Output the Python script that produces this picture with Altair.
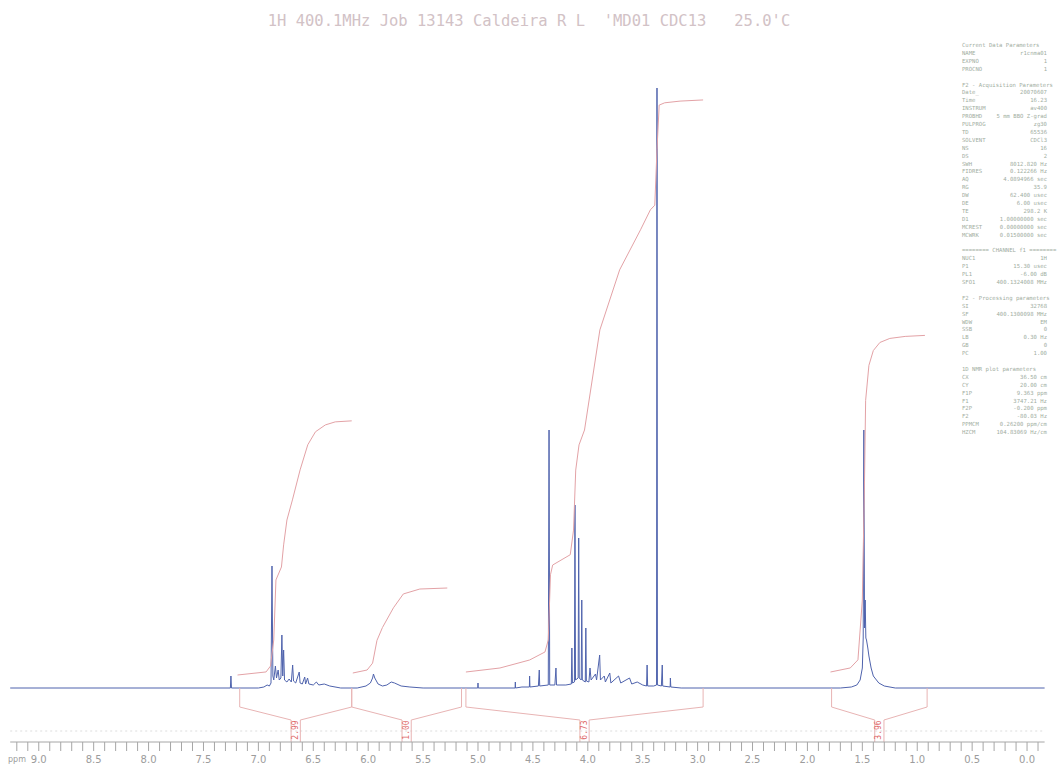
import altair as alt
import pandas as pd

# ---------------------------------------------------------------- data
# 1H spectrum trace: chemical shift (ppm) and intensity above baseline
spec_ppm = [
    9.26,
    7.255, 7.25, 7.245,
    7.00, 6.95, 6.92, 6.90, 6.885,
    6.876, 6.868, 6.86, 6.845, 6.835, 6.82, 6.81, 6.795, 6.786, 6.778, 6.770,
    6.762, 6.74, 6.72, 6.70, 6.688, 6.68, 6.66, 6.628, 6.62, 6.60, 6.578,
    6.57, 6.552, 6.54, 6.50, 6.472, 6.45, 6.40, 6.35, 6.25,
    6.10, 6.02, 5.98, 5.96, 5.952, 5.94, 5.91, 5.87, 5.83, 5.79, 5.76, 5.70,
    5.62, 5.50,
    5.002, 5.0, 4.998,
    4.662, 4.66, 4.658,
    4.60, 4.532, 4.53, 4.527,
    4.45, 4.442, 4.438,
    4.36, 4.353, 4.347,
    4.30, 4.29, 4.285,
    4.20, 4.15, 4.145, 4.14, 4.122, 4.117, 4.112, 4.088, 4.083, 4.078, 4.06,
    4.055, 4.05, 4.023, 4.018, 4.013,
    3.99, 3.98, 3.97, 3.93, 3.92, 3.892, 3.885, 3.85, 3.84, 3.80, 3.79, 3.72,
    3.70, 3.62, 3.60, 3.55, 3.50,
    3.465, 3.46, 3.455, 3.40, 3.374, 3.370, 3.366, 3.33, 3.322, 3.318, 3.25,
    3.248, 3.244, 3.15,
    1.70, 1.60, 1.55, 1.52, 1.50, 1.492, 1.486, 1.480, 1.474, 1.468, 1.462,
    1.45, 1.44, 1.42, 1.40, 1.35, 1.30, 1.20,
    -0.16,
]
spec_int = [
    0,
    0, 12, 0,
    0, 1, 3, 2, 5,
    122, 12, 8, 22, 10, 18, 8, 10, 53, 12, 38,
    8, 6, 9, 6, 23, 7, 5, 16, 5, 4, 11,
    4, 10, 4, 3, 6, 3, 4, 2, 0,
    0, 2, 5, 10, 14, 10, 4, 2, 3, 6, 5, 2,
    1, 0,
    0, 5, 0,
    0, 6, 0,
    1, 1, 12, 1,
    2, 18, 2,
    3, 258, 3,
    3, 20, 3,
    3, 4, 40, 5, 6, 183, 8, 10, 150, 10, 8,
    88, 8, 6, 60, 7,
    6, 20, 8, 14, 8, 33, 8, 12, 6, 15, 5, 12,
    5, 10, 4, 6, 3,
    2, 23, 2, 2, 3, 600, 3, 2, 23, 2, 1,
    10, 1, 0,
    0, 1, 3, 8, 20, 50, 258, 60, 88, 50, 48,
    40, 32, 20, 12, 5, 2, 0,
    0,
]

# integration regions
region_left = [7.17, 6.15, 5.11, 1.78]
region_right = [6.15, 5.15, 2.95, 0.91]
integral_values = [2.99, 1.00, 6.73, 3.96]
integral_start = [13, 15, 16, 16]

# running-integral shapes (ppm, fraction of the region's total)
int_ppm = [
    [7.19, 6.93, 6.89, 6.86, 6.84, 6.79, 6.77, 6.74, 6.69, 6.62, 6.55, 6.48,
     6.39, 6.30, 6.15],
    [6.14, 6.01, 5.96, 5.92, 5.87, 5.77, 5.68, 5.53, 5.28],
    [5.11, 4.80, 4.53, 4.39, 4.36, 4.34, 4.32, 4.16, 4.13, 4.11, 4.08, 4.03,
     3.89, 3.71, 3.52, 3.43, 3.39, 3.37, 3.35, 3.30, 3.16, 2.95],
    [1.79, 1.61, 1.54, 1.50, 1.48, 1.47, 1.44, 1.40, 1.34, 1.25, 1.11, 0.93],
]
int_frac = [
    [0, 0.012, 0.035, 0.138, 0.374, 0.425, 0.512, 0.61, 0.689, 0.807, 0.906,
     0.957, 0.984, 0.996, 1],
    [0, 0.035, 0.116, 0.384, 0.535, 0.767, 0.93, 0.988, 1],
    [0, 0.007, 0.021, 0.035, 0.056, 0.17, 0.187, 0.205, 0.248, 0.353, 0.397,
     0.423, 0.598, 0.703, 0.773, 0.808, 0.816, 0.913, 0.991, 0.995, 0.998, 1],
    [0, 0.012, 0.036, 0.214, 0.57, 0.807, 0.911, 0.955, 0.979, 0.991, 0.997, 1],
]

# ppm scale: a tick every 0.1 ppm, a label every 0.5 ppm
tick_values = [round(9.2 - 0.1 * i, 1) for i in range(94)]
tick_labels = [9.0, 8.5, 8.0, 7.5, 7.0, 6.5, 6.0, 5.5, 5.0, 4.5, 4.0, 3.5,
               3.0, 2.5, 2.0, 1.5, 1.0, 0.5, 0.0]

title_text = ("1H 400.1MHz Job 13143 Caldeira R L \u00a0'MD01 CDC13"
              "\u00a0\u00a0\u00a025.0'C")

param_labels = [
    "Current Data Parameters", "NAME", "EXPNO", "PROCNO", "",
    "F2 - Acquisition Parameters", "Date_", "Time", "INSTRUM", "PROBHD",
    "PULPROG", "TD", "SOLVENT", "NS", "DS", "SWH", "FIDRES", "AQ", "RG", "DW",
    "DE", "TE", "D1", "MCREST", "MCWRK", "",
    "======== CHANNEL f1 ========", "NUC1", "P1", "PL1", "SFO1", "",
    "F2 - Processing parameters", "SI", "SF", "WDW", "SSB", "LB", "GB", "PC",
    "", "1D NMR plot parameters", "CX", "CY", "F1P", "F1", "F2P", "F2",
    "PPMCM", "HZCM",
]
param_values = [
    "", "r1cnma01", "1", "1", "",
    "", "20070607", "16.23", "av400", "5 mm BBO Z-grad",
    "zg30", "65536", "CDCl3", "16", "2", "8012.820 Hz", "0.122266 Hz",
    "4.0894966 sec", "35.9", "62.400 usec",
    "6.00 usec", "298.2 K", "1.00000000 sec", "0.00000000 sec",
    "0.01500000 sec", "",
    "", "1H", "15.30 usec", "-6.00 dB", "400.1324008 MHz", "",
    "", "32768", "400.1300098 MHz", "EM", "0", "0.30 Hz", "0", "1.00",
    "", "", "36.50 cm", "20.00 cm", "9.363 ppm", "3747.21 Hz", "-0.200 ppm",
    "-80.03 Hz", "0.26200 ppm/cm", "104.83069 Hz/cm",
]

# ---------------------------------------------------------------- layout
W, H = 1059, 742
BASE_Y = 688                      # pixel row of the spectrum baseline
X_DOMAIN = [9.353, -0.291]
Y_DOMAIN = [BASE_Y - H, BASE_Y]   # intensity units = pixels above baseline
PX_PER_UNIT = 85.0                # integral height per unit of integral value
AXIS_H = BASE_Y - H               # axis line level
TICK_LEN = 9

BLUE = "#4f63ad"
PINK = "#e3a2a6"
LABEL_RED = "#e06a6a"
GREY = "#a6a6a6"

xs = alt.Scale(domain=X_DOMAIN, nice=False, zero=False)
ys = alt.Scale(domain=Y_DOMAIN, nice=False, zero=False)


def X(field):
    return alt.X(field, scale=xs, axis=None, title=None)


def Y(field):
    return alt.Y(field, scale=ys, axis=None, title=None)


# ---------------------------------------------------------------- tables
spec_df = pd.DataFrame({"ppm": spec_ppm, "h": spec_int,
                        "i": range(len(spec_ppm))})

rows = []
for r, (ppms, fracs) in enumerate(zip(int_ppm, int_frac)):
    for k, (p, f) in enumerate(zip(ppms, fracs)):
        rows.append({"region": r, "k": k, "ppm": p,
                     "h": integral_start[r] + f * integral_values[r] * PX_PER_UNIT})
int_df = pd.DataFrame(rows)

# brackets under the baseline that mark each integration range
segs = []
LEG, SLOPE, HALF = -19, -32, 0.042
for L, R in zip(region_left, region_right):
    c = (L + R) / 2
    for edge, inner in ((L, c + HALF), (R, c - HALF)):
        segs.append({"x": edge, "x2": edge, "y": 0, "y2": LEG})
        segs.append({"x": edge, "x2": inner, "y": LEG, "y2": SLOPE})
        segs.append({"x": inner, "x2": inner, "y": SLOPE, "y2": AXIS_H})
seg_df = pd.DataFrame(segs)

lab_df = pd.DataFrame({
    "x": [(L + R) / 2 for L, R in zip(region_left, region_right)],
    "y": [-42] * 4,
    "t": [f"{v:.2f}" for v in integral_values],
})

tick_df = pd.DataFrame({"t": tick_values,
                        "y": [AXIS_H] * len(tick_values),
                        "y2": [AXIS_H - TICK_LEN] * len(tick_values)})
ticklab_df = pd.DataFrame({"t": tick_labels,
                           "y": [AXIS_H - 18] * len(tick_labels),
                           "s": [f"{v:.1f}" for v in tick_labels]})

par_df = pd.DataFrame({
    "label": param_labels,
    "value": param_values,
    "h": [BASE_Y - (45 + 7.9 * i) for i in range(len(param_labels))],
})

# ---------------------------------------------------------------- layers
spectrum = alt.Chart(spec_df).mark_line(color=BLUE, strokeWidth=1).encode(
    x=X("ppm:Q"), y=Y("h:Q"), order="i:Q",
)

integrals = alt.Chart(int_df).mark_line(color=PINK, strokeWidth=1).encode(
    x=X("ppm:Q"), y=Y("h:Q"), detail="region:N", order="k:Q",
)

brackets = alt.Chart(seg_df).mark_rule(color="#e8b4b4", strokeWidth=1).encode(
    x=X("x:Q"), x2="x2:Q", y=Y("y:Q"), y2="y2:Q",
)

int_labels = alt.Chart(lab_df).mark_text(
    angle=270, color=LABEL_RED, font="DejaVu Sans Mono", fontSize=8,
    align="center", baseline="middle",
).encode(x=X("x:Q"), y=Y("y:Q"), text="t:N")

axis_line = alt.Chart(pd.DataFrame({"a": [9.26], "b": [-0.16], "y": [AXIS_H]})
                      ).mark_rule(color=GREY, strokeWidth=1).encode(
    x=X("a:Q"), x2="b:Q", y=Y("y:Q"))

axis_ticks = alt.Chart(tick_df).mark_rule(color=GREY, strokeWidth=1).encode(
    x=X("t:Q"), y=Y("y:Q"), y2="y2:Q")

axis_labels = alt.Chart(ticklab_df).mark_text(
    font="DejaVu Sans", fontSize=10, color="#9c9c9c", align="center",
    baseline="middle",
).encode(x=X("t:Q"), y=Y("y:Q"), text="s:N")

dotted = alt.Chart(pd.DataFrame({"a": [9.26], "b": [-0.16], "y": [-43]})
                   ).mark_rule(color="#dddddd", strokeWidth=1,
                               strokeDash=[2, 3]).encode(
    x=X("a:Q"), x2="b:Q", y=Y("y:Q"))

title = alt.Chart(pd.DataFrame({"t": [title_text]})).mark_text(
    font="DejaVu Sans Mono", fontSize=15.5, color="#d2c2c6",
    align="center", baseline="middle",
).encode(x=alt.value(529), y=alt.value(21), text="t:N")

ppm_unit = alt.Chart(pd.DataFrame({"t": ["ppm"]})).mark_text(
    font="DejaVu Sans", fontSize=8, color="#9c9c9c", align="left",
    baseline="middle",
).encode(x=alt.value(8), y=alt.value(760), text="t:N")

par_left = alt.Chart(par_df).mark_text(
    font="DejaVu Sans Mono", fontSize=5.6, color="#9fae9f", align="left",
    baseline="middle",
).encode(x=alt.value(962), y=Y("h:Q"), text="label:N")

par_right = alt.Chart(par_df).mark_text(
    font="DejaVu Sans Mono", fontSize=5.6, color="#9fae9f", align="right",
    baseline="middle",
).encode(x=alt.value(1047), y=Y("h:Q"), text="value:N")

chart = alt.layer(
    spectrum, integrals, dotted, brackets, int_labels,
    axis_line, axis_ticks, axis_labels, title, ppm_unit, par_left, par_right,
).properties(
    width=W, height=H,
    autosize=alt.AutoSizeParams(type="none"),
    padding={"left": 0, "top": 0, "right": 0, "bottom": 23},
    background="white",
).configure_view(stroke=None)

chart.save("out.html", embed_options={"renderer": "svg", "actions": False})
